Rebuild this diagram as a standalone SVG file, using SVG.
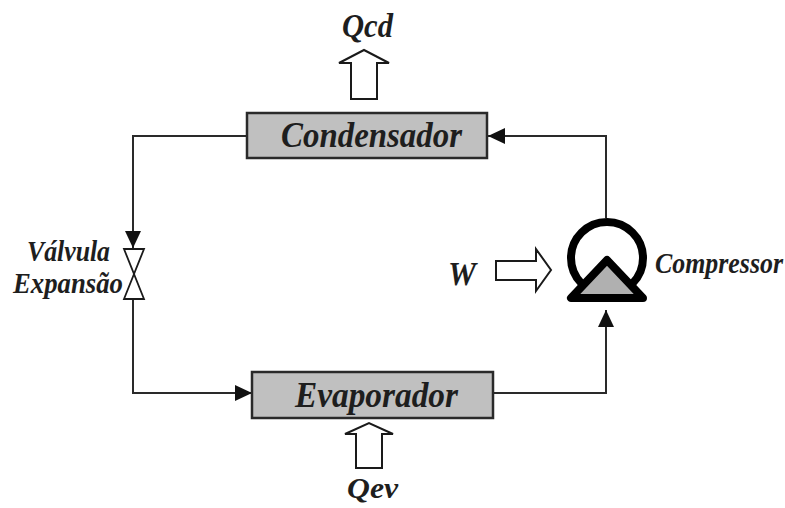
<svg xmlns="http://www.w3.org/2000/svg" width="785" height="508" viewBox="0 0 785 508">
<style>
.bg{fill:#ffffff}
.box{fill:#c0c0c0;stroke:#2a2a2a;stroke-width:2.5}
.line{fill:none;stroke:#2a2a2a;stroke-width:2}
.hollow{fill:#ffffff;stroke:#1a1a1a;stroke-width:2;stroke-linejoin:miter}
.valve{fill:#ffffff;stroke:#1a1a1a;stroke-width:1.8;stroke-linejoin:miter}
.t{font-family:"Liberation Serif","Times New Roman",serif;font-weight:bold;font-style:italic;fill:#1e1e1e}
</style>
<defs>
<marker id="ah" markerUnits="userSpaceOnUse" markerWidth="18" markerHeight="16" refX="17" refY="8" orient="auto">
<path d="M0,0 L17,8 L0,16 z" fill="#111111"/>
</marker>
</defs>
<rect class="bg" x="0" y="0" width="785" height="508"/>
<g id="connectors">
<path class="line" d="M606,218 V136 H488" marker-end="url(#ah)"/>
<path class="line" d="M247,136 H133 V248" marker-end="url(#ah)"/>
<path class="line" d="M133,299 V393 H252" marker-end="url(#ah)"/>
<path class="line" d="M493,393 H606 V310" marker-end="url(#ah)"/>
</g>
<g id="condensador">
<rect class="box" x="247" y="113" width="240" height="45"/>
<text class="t" transform="translate(281,147) scale(1,1.1)" font-size="33" textLength="181" lengthAdjust="spacingAndGlyphs">Condensador</text>
</g>
<g id="qcd">
<polygon class="hollow" points="351,99 351,63 339,63 364,50 389,63 377,63 377,99"/>
<text class="t" transform="translate(342,37) scale(1,1.1)" font-size="30" textLength="51" lengthAdjust="spacingAndGlyphs">Qcd</text>
</g>
<g id="valvula">
<polygon class="valve" points="124,249 144,249 134,274 144,299 124,299 134,274"/>
<text class="t" transform="translate(27,261) scale(1,1.1)" font-size="26" textLength="83" lengthAdjust="spacingAndGlyphs">Válvula</text>
<text class="t" transform="translate(13,293) scale(1,1.1)" font-size="26" textLength="110" lengthAdjust="spacingAndGlyphs">Expansão</text>
</g>
<g id="evaporador">
<rect class="box" x="252" y="372" width="241" height="46"/>
<text class="t" transform="translate(295,407) scale(1,1.1)" font-size="33" textLength="163" lengthAdjust="spacingAndGlyphs">Evaporador</text>
</g>
<g id="qev">
<polygon class="hollow" points="356,468 356,434 345,434 369,423 393,434 382,434 382,468"/>
<text class="t" transform="translate(347,498) scale(1,1.05)" font-size="29" textLength="51" lengthAdjust="spacingAndGlyphs">Qev</text>
</g>
<g id="compressor">
<circle cx="607" cy="258" r="36" fill="#ffffff" stroke="#000000" stroke-width="8"/>
<polygon points="607,260 571,298 643,298" fill="#b0b0b0" stroke="#000000" stroke-width="8" stroke-linejoin="round"/>
<text class="t" transform="translate(655,273) scale(1,1.1)" font-size="26" textLength="128" lengthAdjust="spacingAndGlyphs">Compressor</text>
</g>
<g id="w">
<polygon class="hollow" points="496,261 536,261 536,249 551,270 536,291 536,280 496,280"/>
<text class="t" transform="translate(448,285) scale(1,1.1)" font-size="30" textLength="28" lengthAdjust="spacingAndGlyphs">W</text>
</g>
</svg>
